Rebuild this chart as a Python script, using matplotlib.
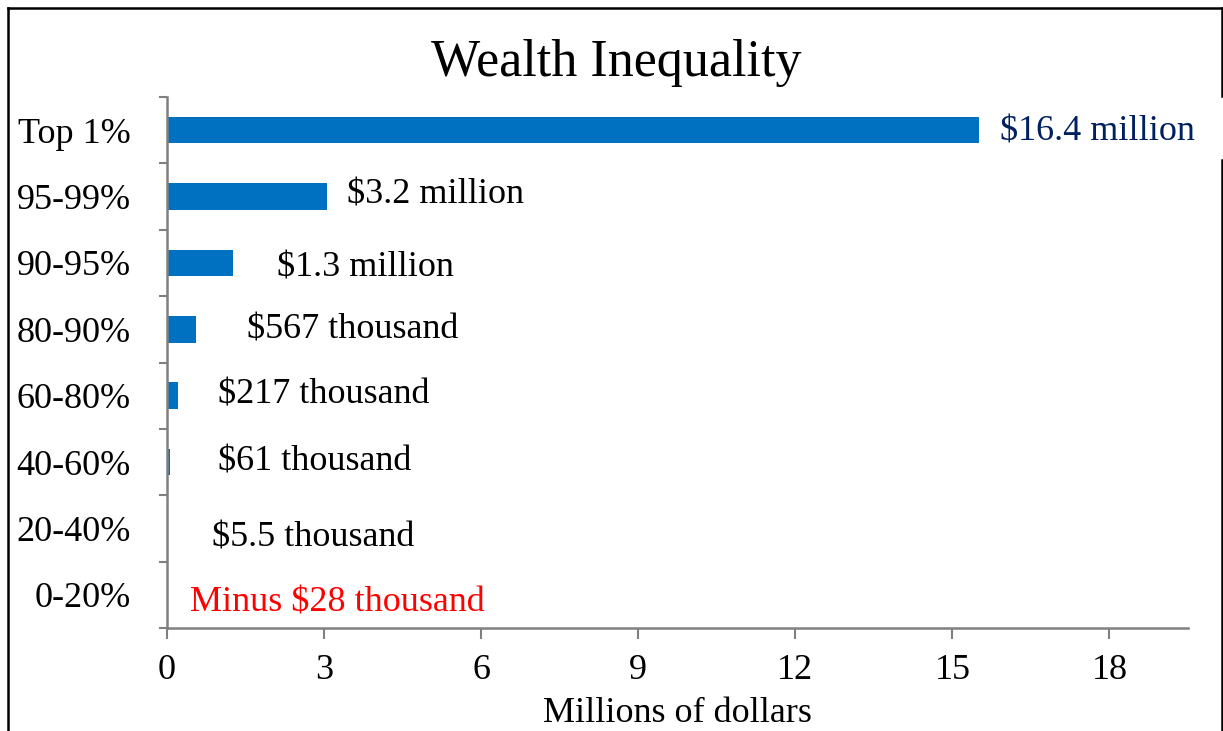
import matplotlib
matplotlib.use("Agg")
import matplotlib.pyplot as plt
from matplotlib.lines import Line2D
from matplotlib.ticker import FixedLocator

plt.rcParams['font.family'] = ['Liberation Serif', 'DejaVu Serif']

categories = ["Top 1%", "95-99%", "90-95%", "80-90%", "60-80%", "40-60%", "20-40%", "0-20%"]
values = [15.5, 3.05, 1.26, 0.55, 0.21, 0.06, 0.0055, -0.028]
value_labels = ["$16.4 million", "$3.2 million", "$1.3 million", "$567 thousand",
                "$217 thousand", "$61 thousand", "$5.5 thousand", "Minus $28 thousand"]
label_x = [15.9, 3.43, 2.10, 1.53, 0.97, 0.97, 0.86, 0.44]
label_dy = [0.02, -0.02, 0.07, 0.01, -0.01, 0.0, 0.15, 0.13]
label_colors = ["#002060", "black", "black", "black", "black", "black", "black", "#FF0000"]
xticks = [0, 3, 6, 9, 12, 15, 18]

W, H = 1223, 731
FS = 26
fig = plt.figure(figsize=(W / 100, H / 100), dpi=100)
ax = fig.add_axes([167 / W, 1 - 628 / H, (1188 - 167) / W, (628 - 97) / H])

n = len(categories)
ypos = list(range(n))
ax.barh(ypos, values, height=0.4, color="#0070C0", zorder=2)
ax.set_ylim(n - 0.5, -0.5)
ax.set_xlim(0, 19.5)

ax.set_yticks(ypos)
ax.set_yticklabels(categories, fontsize=FS)
ax.yaxis.set_minor_locator(FixedLocator([i - 0.5 for i in range(n + 1)]))
ax.tick_params(axis='y', which='major', length=0, pad=26)
ax.tick_params(axis='y', which='minor', length=6, width=1.5, color="#808080")

ax.set_xticks(xticks)
ax.set_xticklabels([str(t) for t in xticks], fontsize=FS)
ax.tick_params(axis='x', which='major', length=8, width=1.5, color="#808080", pad=11)

for s in ['top', 'right']:
    ax.spines[s].set_visible(False)
for s in ['left', 'bottom']:
    ax.spines[s].set_color("#808080")
    ax.spines[s].set_linewidth(1.8)

for i, (lx, lab, c, dy) in enumerate(zip(label_x, value_labels, label_colors, label_dy)):
    ax.text(lx, i + dy, lab, fontsize=FS, color=c, va='center', ha='left', clip_on=False)

ax.set_xlabel("Millions of dollars", fontsize=FS, labelpad=7)

fig.text(616 / W, 1 - 63 / H, "Wealth Inequality", fontsize=37.5, ha='center', va='center')

# figure frame
def px_line(x0, y0, x1, y1):
    fig.add_artist(Line2D([x0 / W, x1 / W], [1 - y0 / H, 1 - y1 / H],
                          transform=fig.transFigure, color="black", linewidth=1.8))

px_line(8, 8, 1222, 8)
px_line(8, 8, 8, 731)
px_line(1222, 8, 1222, 96)
px_line(1222, 160, 1222, 731)

fig.savefig("out.png", dpi=100, facecolor="white")
